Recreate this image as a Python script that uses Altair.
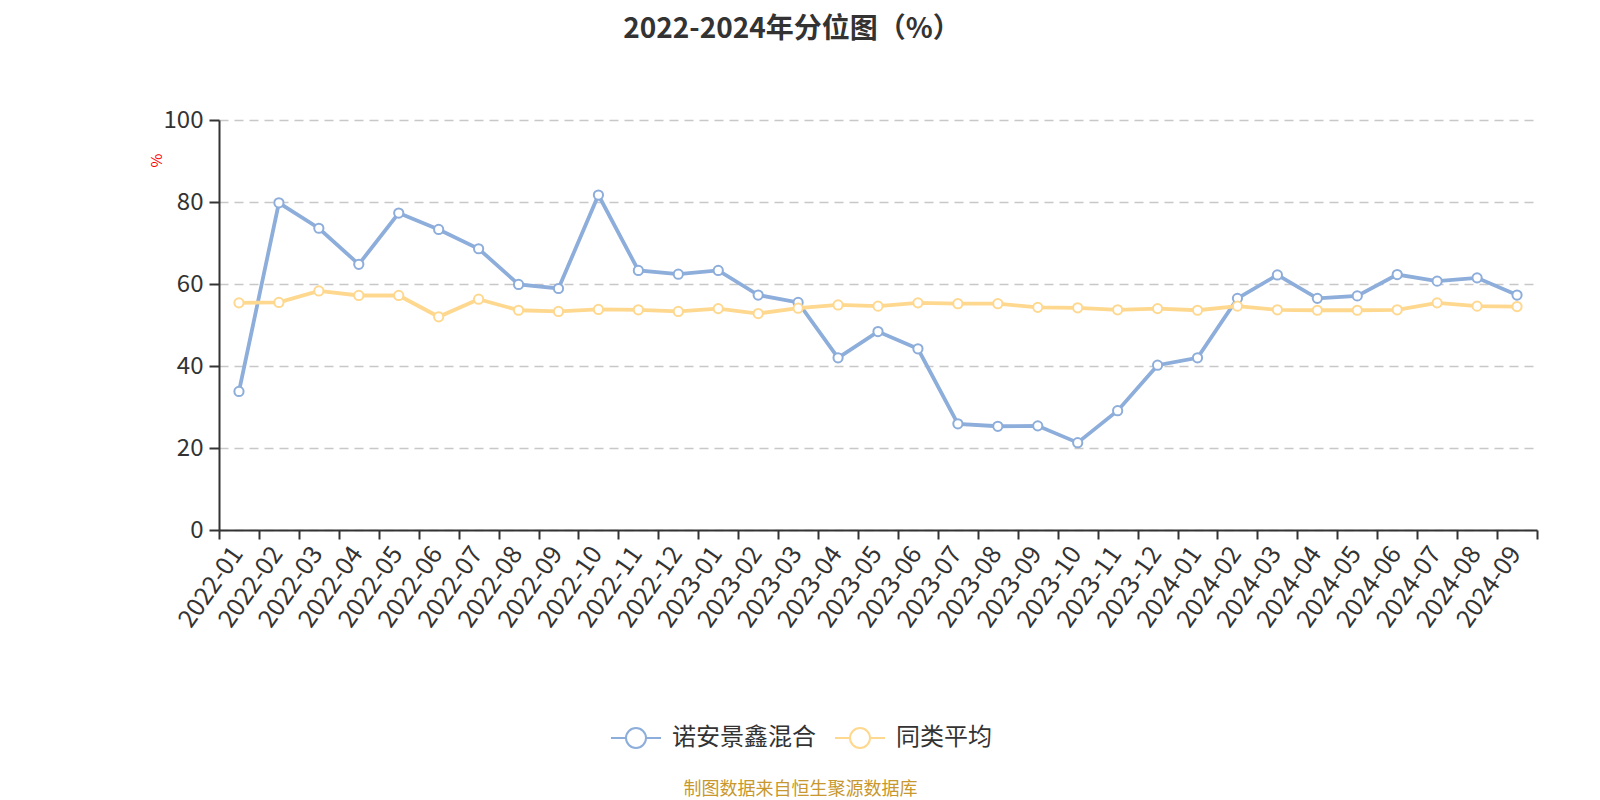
import altair as alt
import pandas as pd

months = [
    "2022-01", "2022-02", "2022-03", "2022-04", "2022-05", "2022-06",
    "2022-07", "2022-08", "2022-09", "2022-10", "2022-11", "2022-12",
    "2023-01", "2023-02", "2023-03", "2023-04", "2023-05", "2023-06",
    "2023-07", "2023-08", "2023-09", "2023-10", "2023-11", "2023-12",
    "2024-01", "2024-02", "2024-03", "2024-04", "2024-05", "2024-06",
    "2024-07", "2024-08", "2024-09",
]
fund = [
    33.8, 79.8, 73.6, 64.8, 77.3, 73.3, 68.6, 59.9, 58.9, 81.7, 63.3, 62.4,
    63.3, 57.3, 55.5, 42.0, 48.4, 44.2, 25.9, 25.3, 25.4, 21.3, 29.1, 40.2,
    42.0, 56.5, 62.2, 56.5, 57.1, 62.3, 60.7, 61.5, 57.3,
]
peer_avg = [
    55.4, 55.5, 58.3, 57.2, 57.2, 52.0, 56.3, 53.6, 53.3, 53.8, 53.7, 53.3,
    54.0, 52.8, 54.1, 54.9, 54.6, 55.4, 55.2, 55.2, 54.3, 54.2, 53.7, 54.0,
    53.6, 54.6, 53.7, 53.6, 53.6, 53.7, 55.4, 54.6, 54.5,
]
series_names = ["诺安景鑫混合", "同类平均"]
series_colors = ["#8DADDB", "#FFD88F"]
title_text = "2022-2024年分位图（%）"
source_text = "制图数据来自恒生聚源数据库"

rows = []
for m, a, b in zip(months, fund, peer_avg):
    rows.append({"month": m, "series": series_names[0], "value": a})
    rows.append({"month": m, "series": series_names[1], "value": b})
df = pd.DataFrame(rows)

FONT = "Noto Sans CJK SC"
legend_path = "M-1,0L-0.4,0M0.4,0L1,0M0.4,0A0.4,0.4 0 1,1 -0.4,0A0.4,0.4 0 1,1 0.4,0Z"

color_scale = alt.Scale(domain=series_names, range=series_colors)

x_enc = alt.X(
    "month:N",
    sort=months,
    scale=alt.Scale(type="band", paddingInner=0, paddingOuter=0),
    axis=alt.Axis(
        title=source_text,
        titleColor="#C8982E",
        titleFontSize=18,
        titleFontWeight="normal",
        titleFont=FONT,
        titleX=581,
        titleY=259,
        titleAlign="center",
        titleBaseline="middle",
        labelAngle=-55,
        labelAlign="right",
        labelBaseline="top",
        labelFontSize=25,
        labelFont=FONT,
        labelColor="#333333",
        labelPadding=3,
        labelOffset=-12,
        tickBand="extent",
        tickSize=9,
        tickWidth=2,
        tickColor="#333333",
        domainColor="#333333",
        domainWidth=2,
        grid=False,
        labelOverlap=False,
    ),
)

y_enc = alt.Y(
    "value:Q",
    scale=alt.Scale(domain=[0, 100]),
    axis=alt.Axis(
        values=[0, 20, 40, 60, 80, 100],
        title="%",
        titleColor="red",
        titleFontSize=15,
        titleFontWeight="normal",
        titleFont=FONT,
        titleX=-63,
        titleY=40,
        titleAlign="center",
        titleBaseline="middle",
        grid=True,
        gridDash=[9, 6],
        gridColor="#c8c8c8",
        gridWidth=1.5,
        domainColor="#333333",
        domainWidth=2,
        tickSize=10,
        tickWidth=2,
        tickColor="#333333",
        labelFontSize=24,
        labelFont=FONT,
        labelColor="#333333",
        labelPadding=6,
    ),
)

base = alt.Chart(df)

lines = base.mark_line(strokeWidth=3.8).encode(
    x=x_enc,
    y=y_enc,
    color=alt.Color(
        "series:N",
        scale=color_scale,
        sort=series_names,
        legend=alt.Legend(
            title=None,
            orient="none",
            legendX=391,
            legendY=592,
            direction="horizontal",
            symbolType=legend_path,
            symbolSize=2500,
            symbolStrokeWidth=2,
            symbolFillColor="white",
            labelFontSize=24,
            labelFont=FONT,
            labelColor="#333333",
            labelOffset=10,
            columnPadding=15,
        ),
    ),
)

points = base.mark_point(
    shape="circle", filled=False, fill="white", fillOpacity=1,
    strokeWidth=2, size=85, opacity=1,
).encode(
    x=x_enc,
    y=y_enc,
    color=alt.Color("series:N", scale=color_scale, legend=None),
)

chart = (
    alt.layer(lines, points)
    .properties(
        width=1318,
        height=410,
        autosize=alt.AutoSizeParams(type="none"),
        padding={"left": 211, "top": 112, "right": 50, "bottom": 268},
        title=alt.TitleParams(
            title_text,
            fontSize=28,
            font=FONT,
            fontWeight="bold",
            color="#333333",
            anchor="middle",
            frame="group",
            dx=-86,
            offset=42,
            baseline="alphabetic",
        ),
    )
    .configure_view(stroke=None)
)

chart.save("out.html", embed_options={"renderer": "svg", "actions": False})
